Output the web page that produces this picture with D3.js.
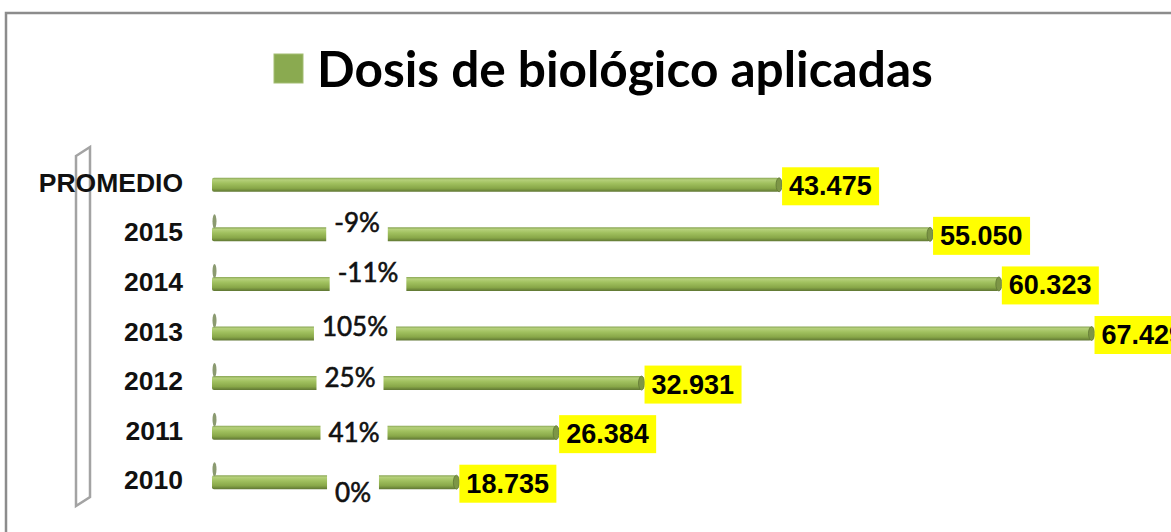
<!DOCTYPE html>
<html>
<head>
<meta charset="utf-8">
<script src="https://cdn.jsdelivr.net/npm/d3@7"></script>
<style>
  html, body { margin: 0; padding: 0; background: #fff; }
  svg { display: block; }
</style>
</head>
<body>
<svg id="chart"></svg>
<script>
// data
const categories = ["PROMEDIO", "2015", "2014", "2013", "2012", "2011", "2010"];
const doses = [43475, 55050, 60323, 67429, 32931, 26384, 18735];
const changeLabels = [null, "-9%", "-11%", "105%", "25%", "41%", "0%"];
const seriesName = "Dosis de biológico aplicadas";

// label nudges (layout only)
const pctDy = [0, -12, -12, -8, -6, -1, 10];
const pctDx = [0, 1, 12, -1, -6, -2, -3];

const width = 1171, height = 532;
const svg = d3.select("#chart").attr("width", width).attr("height", height);

const defs = svg.append("defs");
const grad = defs.append("linearGradient")
  .attr("id", "cyl").attr("x1", 0).attr("y1", 0).attr("x2", 0).attr("y2", 1);
[[0, "#8aa656"], [0.15, "#b5d07a"], [0.4, "#a0c05e"], [0.75, "#88a748"], [1, "#5f7633"]]
  .forEach(([o, c]) => grad.append("stop").attr("offset", o).attr("stop-color", c));

// frame
svg.append("rect")
  .attr("x", 6).attr("y", 13).attr("width", 1300).attr("height", 700)
  .attr("fill", "none").attr("stroke", "#8c8c8c").attr("stroke-width", 2.5);

// title / legend
svg.append("rect")
  .attr("x", 274).attr("y", 54).attr("width", 29).attr("height", 29)
  .attr("fill", "#8aaa50").attr("stroke", "#a3bd72").attr("stroke-width", 1);
const title = svg.append("text")
  .attr("x", 317).attr("y", 87)
  .attr("font-family", "Lato, 'Open Sans', sans-serif")
  .attr("font-weight", "bold")
  .attr("font-size", 46)
  .attr("fill", "#000")
  .text(seriesName);
const tw = title.node().getComputedTextLength();
title.attr("font-size", 46 * 616 / tw);

const x = d3.scaleLinear().domain([0, 80000]).range([212, 212 + 1043.5]);
const y = d3.scaleBand().domain(categories).range([160, 507]).padding(0);
const cy = c => y(c) + y.bandwidth() / 2;
const barH = 14;

// side wall
svg.append("path")
  .attr("d", d3.line()([[76, 156], [90, 147], [90, 497], [76, 506]]) + "Z")
  .attr("fill", "none").attr("stroke", "#a3a3a3").attr("stroke-width", 2.5);

// category labels
svg.append("g").selectAll("text")
  .data(categories)
  .join("text")
  .attr("x", 183)
  .attr("y", d => cy(d) - 2)
  .attr("text-anchor", "end")
  .attr("dominant-baseline", "central")
  .attr("font-family", "'Liberation Sans', Arial, sans-serif")
  .attr("font-weight", "bold")
  .attr("font-size", 26.5)
  .attr("fill", "#111")
  .text(d => d);

// bars
const bars = svg.append("g").selectAll("g")
  .data(categories.map((c, i) => ({ c, v: doses[i], i })))
  .join("g");

bars.append("rect")
  .attr("x", x(0))
  .attr("y", d => cy(d.c) - barH / 2)
  .attr("width", d => x(d.v) - x(0))
  .attr("height", barH)
  .attr("rx", 2)
  .attr("fill", "url(#cyl)");

bars.append("ellipse")
  .attr("cx", d => x(d.v))
  .attr("cy", d => cy(d.c))
  .attr("rx", 3)
  .attr("ry", barH / 2)
  .attr("fill", "#7d9646")
  .attr("stroke", "#5f7633")
  .attr("stroke-width", 0.8);

// tiny second-series stubs
bars.filter(d => changeLabels[d.i] !== null)
  .append("ellipse")
  .attr("cx", x(0) + 2.5)
  .attr("cy", d => cy(d.c) - 13)
  .attr("rx", 2)
  .attr("ry", 7)
  .attr("fill", "#8b9a70");

// change labels
const pct = svg.append("g").selectAll("g")
  .data(categories.map((c, i) => ({ c, t: changeLabels[i], i })).filter(d => d.t !== null))
  .join("g")
  .attr("transform", d => `translate(${356 + pctDx[d.i]},${cy(d.c) + pctDy[d.i]})`);

pct.append("rect").attr("class", "bg").attr("fill", "#fff");
pct.append("text")
  .attr("text-anchor", "middle")
  .attr("dominant-baseline", "central")
  .attr("font-family", "Lato, 'Open Sans', sans-serif")
  .attr("font-size", 26)
  .attr("fill", "#111")
  .attr("stroke", "#111")
  .attr("stroke-width", 0.6)
  .text(d => d.t);
pct.each(function () {
  const g = d3.select(this);
  const w = g.select("text").node().getComputedTextLength();
  g.select("rect.bg")
    .attr("x", -w / 2 - 8).attr("y", -20)
    .attr("width", w + 16).attr("height", 40);
});

// value labels
const fmt = v => d3.format(",")(v).replace(/,/g, ".");
const vl = svg.append("g").selectAll("g")
  .data(categories.map((c, i) => ({ c, v: doses[i] })))
  .join("g")
  .attr("transform", d => `translate(${x(d.v) + 3},${cy(d.c) + 1.5})`);

vl.append("rect")
  .attr("x", 0).attr("y", -19)
  .attr("width", 97).attr("height", 38)
  .attr("fill", "#ffff00");
vl.append("text")
  .attr("x", 7)
  .attr("dominant-baseline", "central")
  .attr("font-family", "'Liberation Sans', Arial, sans-serif")
  .attr("font-weight", "bold")
  .attr("font-size", 27)
  .attr("fill", "#000")
  .text(d => fmt(d.v));
</script>
</body>
</html>
